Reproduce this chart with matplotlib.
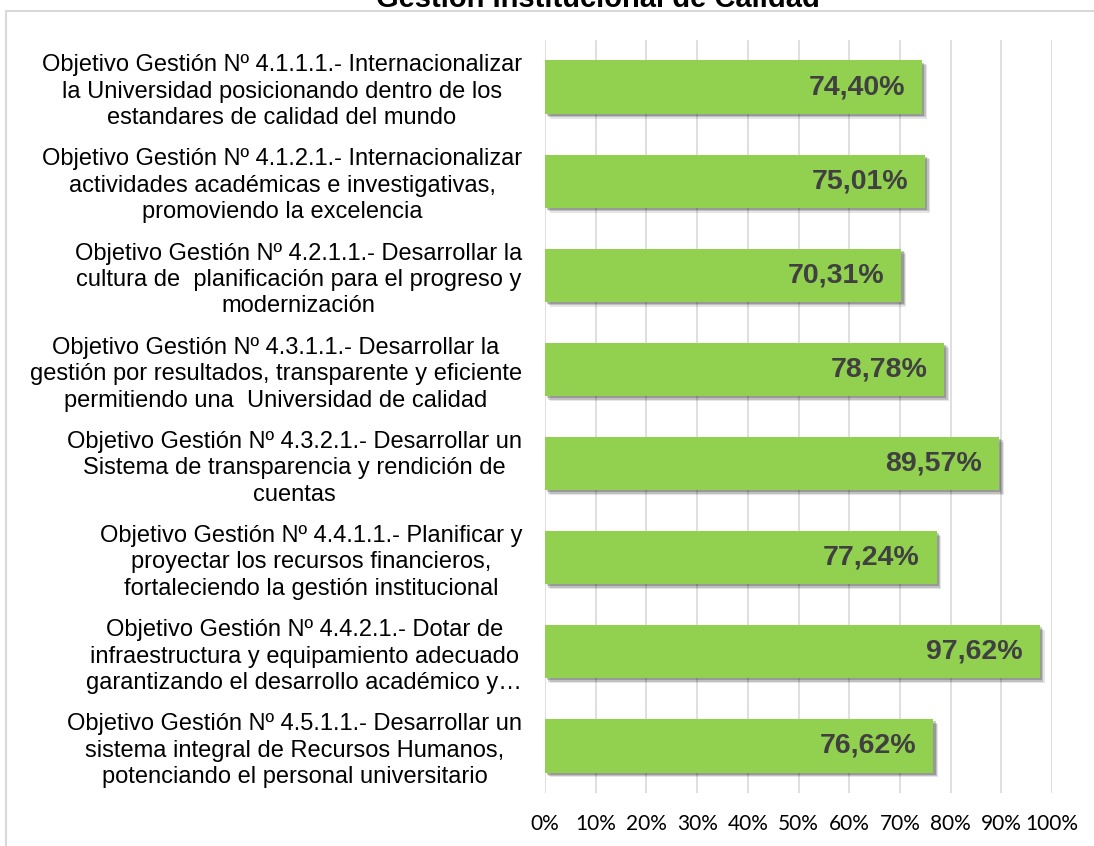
import matplotlib
matplotlib.use('Agg')
import matplotlib.pyplot as plt
import matplotlib.patheffects as pe
from matplotlib.patches import Rectangle

categorias = [
    'Objetivo Gestión Nº 4.1.1.1.- Internacionalizar\nla Universidad posicionando dentro de los\nestandares de calidad del mundo',
    'Objetivo Gestión Nº 4.1.2.1.- Internacionalizar\nactividades académicas e investigativas,\npromoviendo la excelencia',
    'Objetivo Gestión Nº 4.2.1.1.- Desarrollar la\ncultura de  planificación para el progreso y\nmodernización',
    'Objetivo Gestión Nº 4.3.1.1.- Desarrollar la\ngestión por resultados, transparente y eficiente\npermitiendo una  Universidad de calidad',
    'Objetivo Gestión Nº 4.3.2.1.- Desarrollar un\nSistema de transparencia y rendición de\ncuentas',
    'Objetivo Gestión Nº 4.4.1.1.- Planificar y\nproyectar los recursos financieros,\nfortaleciendo la gestión institucional',
    'Objetivo Gestión Nº 4.4.2.1.- Dotar de\ninfraestructura y equipamiento adecuado\ngarantizando el desarrollo académico y…',
    'Objetivo Gestión Nº 4.5.1.1.- Desarrollar un\nsistema integral de Recursos Humanos,\npotenciando el personal universitario',
]
valores = [74.40, 75.01, 70.31, 78.78, 89.57, 77.24, 97.62, 76.62]
ticks = [0, 10, 20, 30, 40, 50, 60, 70, 80, 90, 100]

fig = plt.figure(figsize=(10.94, 8.46), dpi=100)
ax = fig.add_axes([545 / 1094, 1 - 793 / 846, (1052 - 545) / 1094, (793 - 40) / 846])

# marco del grafico
fig.add_artist(Rectangle((6 / 1094, -0.1), 2, 1 - 11 / 846 + 0.1, transform=fig.transFigure,
                         fill=False, edgecolor='#d9d9d9', lw=1.5))
fig.text(598 / 1094, 1 - 7 / 846, 'Gestión Institucional de Calidad', ha='center', va='baseline',
         fontsize=21, fontweight='bold', family='Liberation Sans')

y = range(len(valores))
sombra = [pe.SimplePatchShadow(offset=(1.5, -1.5), shadow_rgbFace='black', alpha=0.2),
          pe.SimplePatchShadow(offset=(2.5, -2.5), shadow_rgbFace='black', alpha=0.16),
          pe.SimplePatchShadow(offset=(3.5, -3.5), shadow_rgbFace='black', alpha=0.1),
          pe.Normal()]
barras = ax.barh(y, valores, height=0.565, color='#92d050', zorder=3)
for b in barras:
    b.set_path_effects(sombra)

for i, v in enumerate(valores):
    ax.annotate(f'{v:.2f}%'.replace('.', ','), xy=(v, i), xytext=(-17, 0), textcoords='offset pixels',
                ha='right', va='center', fontsize=20.5, fontweight='bold', color='#404040',
                family='Liberation Sans', zorder=4)

ax.set_xlim(0, 100)
ax.set_ylim(len(valores) - 0.5, -0.5)
ax.set_xticks(ticks)
ax.set_xticklabels([f'{t}%' for t in ticks], fontsize=15, family='Lato', color='#000000')
ax.set_yticks(list(y))
ax.set_yticklabels(categorias, fontsize=17, family='Liberation Sans', multialignment='center',
                   linespacing=1.26)
ax.tick_params(axis='y', length=0, pad=16.5)
ax.tick_params(axis='x', length=0, pad=15)
ax.grid(axis='x', color='#d9d9d9', lw=1.2, zorder=0)
for s in ax.spines.values():
    s.set_visible(False)

fig.savefig('out.png', dpi=100)
